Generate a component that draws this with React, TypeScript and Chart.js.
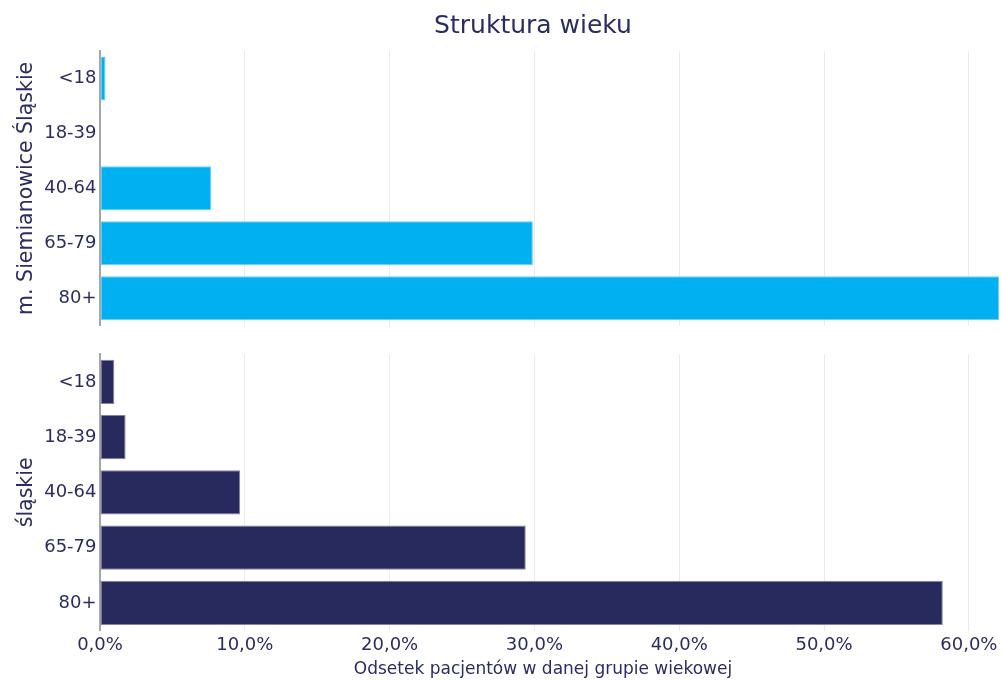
import React, { useEffect, useRef } from 'react';
import { Chart, registerables } from 'chart.js';

Chart.register(...registerables);

const ageGroups = ['<18', '18-39', '40-64', '65-79', '80+'];
const siemianowiceValues = [0.38, 0, 7.67, 29.89, 62.09];
const slaskieValues = [0.99, 1.77, 9.67, 29.4, 58.2];
const xTickValues = [0, 10, 20, 30, 40, 50, 60];
const regionNames = ['m. Siemianowice Śląskie', 'śląskie'];
const chartTitle = 'Struktura wieku';
const xAxisTitle = 'Odsetek pacjentów w danej grupie wiekowej';
const xMax = 62.15;

const FONT = 'DejaVu Sans';
const TEXT = '#2b2d62';
const W = 1002;
const H_TOP = 340;
const H_BOTTOM = 340;
const TICK_SIZE = 18;
const YTITLE_SIZE = 20.5;

const fmt = (v: number) => v.toFixed(1).replace('.', ',') + '%';

function makeConfig(isBottom: boolean): any {
  const values = isBottom ? slaskieValues : siemianowiceValues;
  const color = isBottom ? '#282a5e' : '#00b0f0';
  const border = isBottom ? '#8284a8' : '#6ccdf3';
  const textPlugin = {
    id: 'texts' + (isBottom ? 'B' : 'T'),
    afterDraw(chart: any) {
      const ctx = chart.ctx;
      ctx.save();
      ctx.fillStyle = TEXT;
      ctx.textBaseline = 'alphabetic';
      ctx.textAlign = 'center';
      if (!isBottom) {
        ctx.font = `25px "${FONT}"`;
        ctx.fillText(chartTitle, 533, 33);
      } else {
        ctx.font = `17px "${FONT}"`;
        ctx.fillText(xAxisTitle, 543, 334);
      }
      ctx.restore();
    },
  };
  return {
    type: 'bar',
    data: {
      labels: ageGroups,
      datasets: [
        {
          data: values,
          backgroundColor: color,
          borderColor: border,
          borderWidth: 1,
          borderSkipped: false,
          barPercentage: 0.8,
          categoryPercentage: 1,
        },
      ],
    },
    options: {
      indexAxis: 'y',
      responsive: false,
      animation: false,
      layout: {
        padding: isBottom
          ? { left: 0, right: 2, top: 13.5, bottom: 0 }
          : { left: 0, right: 2, top: 51, bottom: 10 },
      },
      plugins: {
        legend: { display: false },
        tooltip: { enabled: false },
        title: { display: false },
      },
      scales: {
        x: {
          type: 'linear',
          min: 0,
          max: xMax,
          afterBuildTicks: (s: any) => {
            s.ticks = xTickValues.map((v) => ({ value: v }));
          },
          afterFit: (s: any) => {
            s.height = isBottom ? 49.5 : 0;
          },
          grid: { color: '#ebebeb', lineWidth: 1, drawTicks: false },
          border: { display: false },
          ticks: {
            display: isBottom,
            padding: 4,
            color: TEXT,
            font: { family: FONT, size: TICK_SIZE },
            maxRotation: 0,
            autoSkip: false,
            callback: (v: any) => fmt(Number(v)),
          },
        },
        y: {
          afterFit: (s: any) => {
            s.width = 100;
          },
          grid: { display: false, drawTicks: false },
          border: { display: true, color: '#a6a6a6', width: 2 },
          ticks: {
            padding: 3.5,
            color: TEXT,
            font: { family: FONT, size: TICK_SIZE },
          },
          title: {
            display: true,
            text: isBottom ? regionNames[1] : regionNames[0],
            color: TEXT,
            font: { family: FONT, size: YTITLE_SIZE },
            padding: { top: 14, bottom: 0 },
          },
        },
      },
    },
    plugins: [textPlugin],
  };
}

function Panel({ isBottom, top, height }: { isBottom: boolean; top: number; height: number }) {
  const ref = useRef<HTMLCanvasElement>(null);
  useEffect(() => {
    if (!ref.current) return;
    const chart = new Chart(ref.current, makeConfig(isBottom));
    return () => chart.destroy();
  }, [isBottom]);
  return (
    <canvas
      ref={ref}
      width={W}
      height={height}
      style={{ position: 'absolute', left: 0, top, width: W, height }}
    />
  );
}

export default function App() {
  return (
    <div style={{ position: 'absolute', left: 0, top: 0, width: W, height: 680, background: '#fff' }}>
      <Panel isBottom={false} top={0} height={H_TOP} />
      <Panel isBottom={true} top={H_TOP} height={H_BOTTOM} />
    </div>
  );
}
